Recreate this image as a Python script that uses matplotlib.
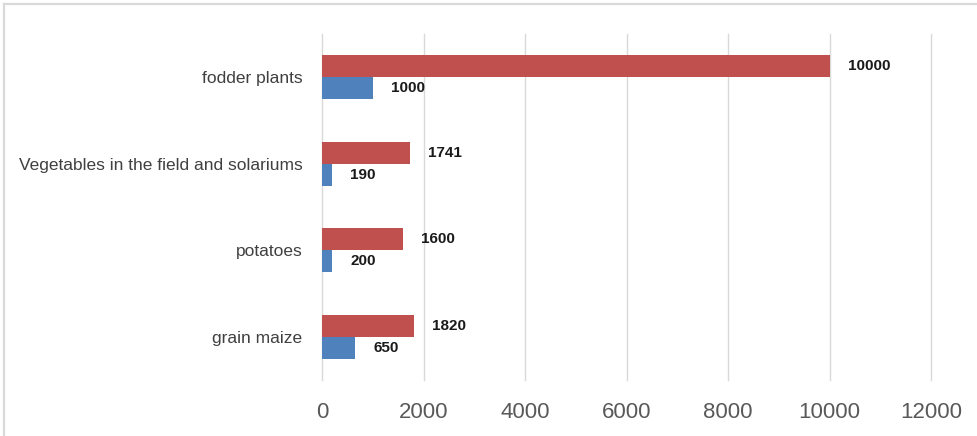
import matplotlib
matplotlib.use('Agg')
import matplotlib.pyplot as plt
from matplotlib.lines import Line2D
import numpy as np

# crops, bottom to top
crops = ['grain maize', 'potatoes', 'Vegetables in the field and solariums', 'fodder plants']
series_red = [1820, 1600, 1741, 10000]
series_blue = [650, 200, 190, 1000]
xticks = [0, 2000, 4000, 6000, 8000, 10000, 12000]

plt.rcParams['font.family'] = 'Liberation Sans'

fig = plt.figure(figsize=(9.77, 4.36), dpi=100)
ax = fig.add_axes([322/977, 1 - 380/436, (931 - 322)/977, (380 - 34)/436])

y = np.arange(len(crops))
h = 0.255
ax.barh(y + h/2, series_red, height=h, color='#C0504D', zorder=3)
ax.barh(y - h/2, series_blue, height=h, color='#4F81BD', zorder=3)

# value labels
for yi, r, b in zip(y, series_red, series_blue):
    ax.annotate(str(r), (r, yi + h/2), xytext=(13, 0), textcoords='offset points',
                va='center', ha='left', fontsize=11, fontweight='bold', color='#1a1a1a')
    ax.annotate(str(b), (b, yi - h/2), xytext=(13, 0), textcoords='offset points',
                va='center', ha='left', fontsize=11, fontweight='bold', color='#1a1a1a')

ax.set_xlim(0, 12000)
ax.set_ylim(-0.5, 3.5)
ax.set_xticks(xticks)
ax.set_xticklabels([str(t) for t in xticks], fontsize=16, color='#595959')
ax.set_yticks(y)
ax.set_yticklabels(crops, fontsize=12.5, color='#404040')
ax.tick_params(axis='both', length=0)
ax.tick_params(axis='x', pad=16)
ax.tick_params(axis='y', pad=14)
for t in xticks:
    ax.axvline(t, color='#D9D9D9', linewidth=1, zorder=0, clip_on=False)
for s in ax.spines.values():
    s.set_visible(False)

# chart area border (top and left edges)
fig.add_artist(Line2D([4/977, 1], [1 - 4/436, 1 - 4/436], color='#D9D9D9', linewidth=1.6))
fig.add_artist(Line2D([4/977, 4/977], [0, 1 - 4/436], color='#D9D9D9', linewidth=1.6))

fig.savefig('out.png', dpi=100)
